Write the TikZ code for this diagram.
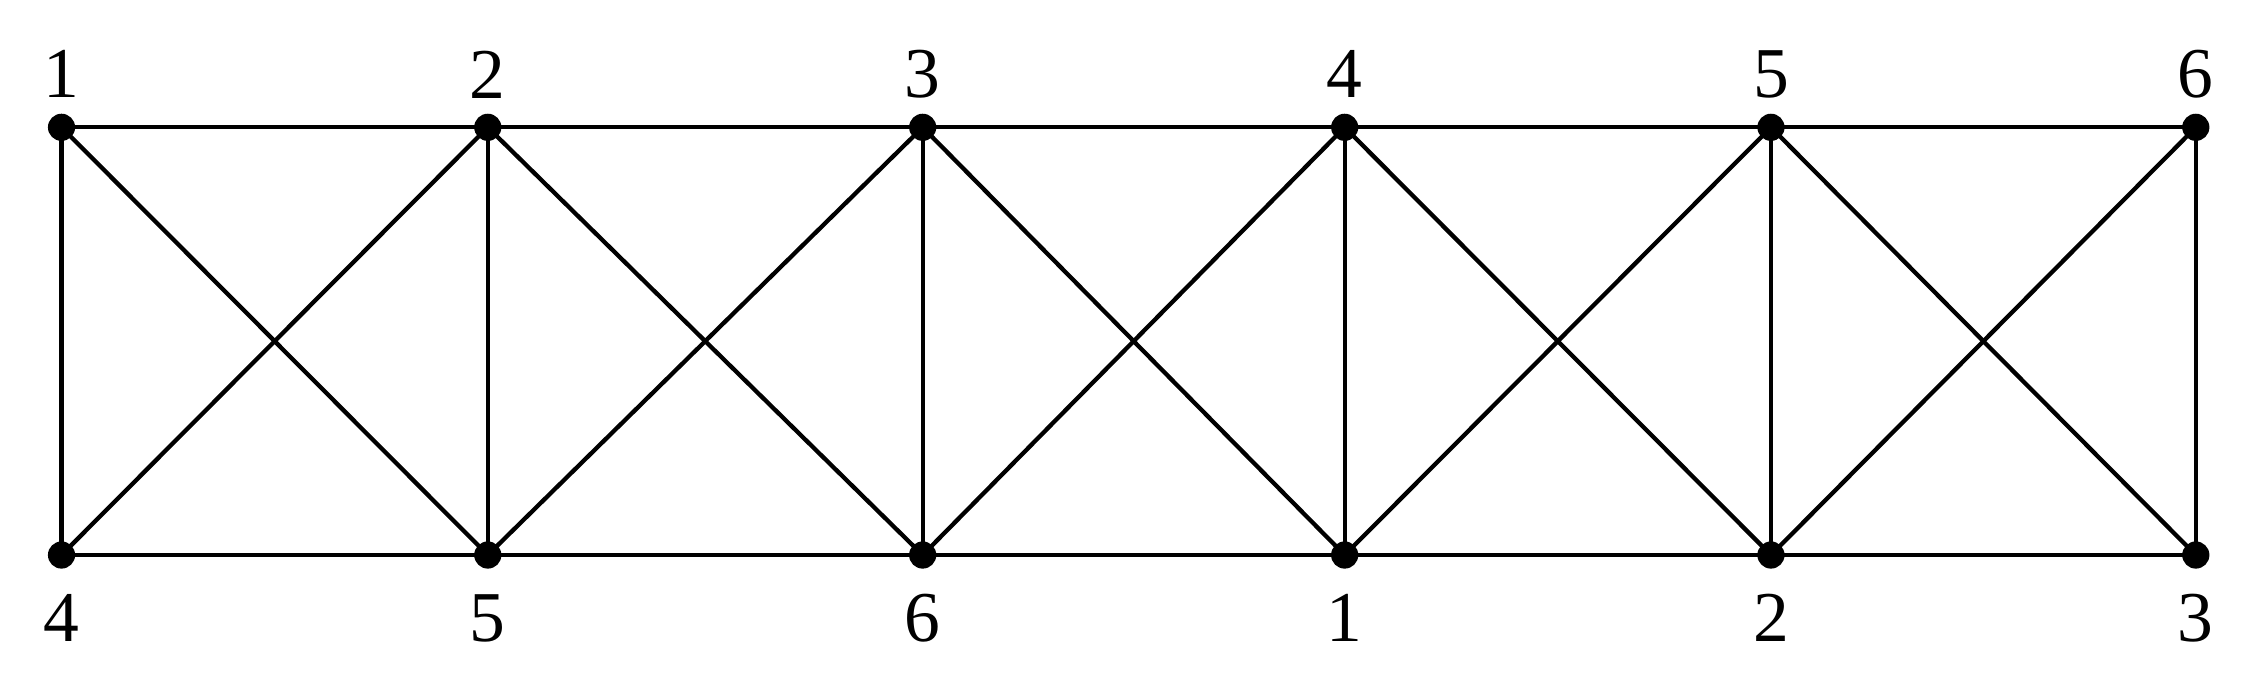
\documentclass[tikz,border=0pt]{standalone}
\usepackage{fontspec}
\setmainfont{Liberation Serif}
\begin{document}
\begin{tikzpicture}[x=1pt,y=-1pt,
  dot/.style={circle,fill=black,inner sep=0pt,minimum size=19pt},
  lab/.style={font=\fontsize{50}{50}\selectfont},
  edge/.style={line width=3pt}]
\useasboundingbox (0,0) rectangle (1568,484);
\foreach \n/\x/\l in {t1/43/1,t2/341/2,t3/645/3,t4/940/4,t5/1238/5,t6/1535/6}{
  \node[dot] (\n) at (\x,89) {};
  \node[lab] (\n l) at (\x,52) {\l};}
\foreach \n/\x/\l in {b1/43/4,b2/341/5,b3/645/6,b4/940/1,b5/1238/2,b6/1535/3}{
  \node[dot] (\n) at (\x,388) {};
  \node[lab] (\n l) at (\x,432) {\l};}
\foreach \i in {1,...,6}{\draw[edge] (t\i.center) -- (b\i.center);}
\foreach \i/\j in {1/2,2/3,3/4,4/5,5/6}{
  \draw[edge] (t\i.center) -- (t\j.center);
  \draw[edge] (b\i.center) -- (b\j.center);
  \draw[edge] (t\i.center) -- (b\j.center);
  \draw[edge] (b\i.center) -- (t\j.center);}
\end{tikzpicture}
\end{document}
